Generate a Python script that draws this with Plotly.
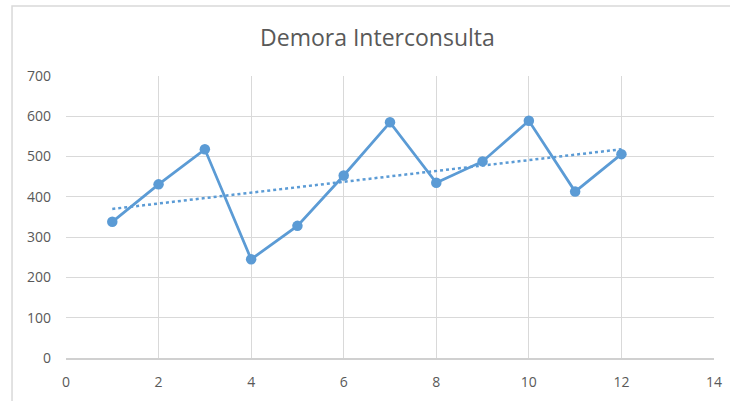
import numpy as np
import plotly.graph_objects as go

x_vals = [1, 2, 3, 4, 5, 6, 7, 8, 9, 10, 11, 12]
y_vals = [338, 431, 518, 245, 328, 453, 585, 435, 488, 589, 413, 506]
x_ticks = [0, 2, 4, 6, 8, 10, 12, 14]
y_ticks = [0, 100, 200, 300, 400, 500, 600, 700]
title_text = "Demora Interconsulta"

color = "#5B9BD5"
grid = "#D9D9D9"
txt = "#595959"

# linear trend line (least squares)
slope, intercept = np.polyfit(x_vals, y_vals, 1)
trend_x = [x_vals[0], x_vals[-1]]
trend_y = [slope * xx + intercept for xx in trend_x]

fig = go.Figure()
fig.add_trace(go.Scatter(x=x_vals, y=y_vals, mode="lines+markers",
                         line=dict(color=color, width=2.75),
                         marker=dict(color=color, size=10.5), showlegend=False))
fig.add_trace(go.Scatter(x=trend_x, y=trend_y, mode="lines",
                         line=dict(color=color, width=2.5, dash="dot"),
                         showlegend=False))

fig.update_layout(
    width=730, height=401,
    margin=dict(l=66, r=16, t=76, b=43, autoexpand=False),
    paper_bgcolor="white", plot_bgcolor="white",
    font=dict(family="Open Sans, Noto Sans, sans-serif", color=txt, size=14),
    title=dict(text=title_text, x=0.517, xanchor="center", y=0.905, yanchor="middle",
               font=dict(size=23, color=txt)),
    xaxis=dict(range=[0, 14], tickvals=x_ticks, showgrid=True, gridcolor=grid, gridwidth=1,
               zeroline=False, showline=True, linecolor="#D0D0D0", linewidth=1.5,
               ticks="", ticklabelstandoff=10, tickfont=dict(size=14, color=txt),
               automargin=False),
    yaxis=dict(range=[0, 700], tickvals=y_ticks, showgrid=True, gridcolor=grid, gridwidth=1,
               zeroline=False, showline=False, ticks="", ticklabelstandoff=14,
               tickfont=dict(size=14, color=txt), automargin=False),
)

# outer chart frame
fig.add_shape(type="rect", xref="paper", yref="paper",
              x0=-0.0833, x1=1.15, y0=-0.35, y1=1.248,
              line=dict(color="#D9D9D9", width=1.5), fillcolor="rgba(0,0,0,0)", layer="below")

fig.write_html("out.html", config={"displayModeBar": False},
               post_script="document.body.style.margin='0';document.body.style.overflow='hidden';"
                           "document.documentElement.style.overflow='hidden';")
